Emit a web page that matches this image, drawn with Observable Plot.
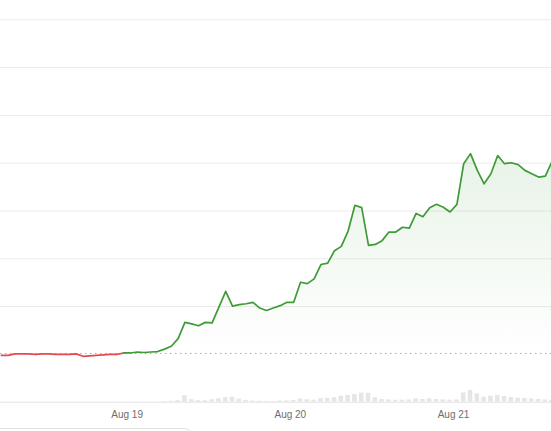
<!DOCTYPE html>
<html><head><meta charset="utf-8">
<script src="https://cdn.jsdelivr.net/npm/d3@7"></script>
<script src="https://cdn.jsdelivr.net/npm/@observablehq/plot@0.6"></script>
<style>
html,body{margin:0;padding:0;background:#fff;overflow:hidden;width:551px;height:431px;}
#chart{position:absolute;left:0;top:0;}
.btn{position:absolute;left:-12px;top:428px;width:205px;height:30px;border:1px solid #e2e2e2;border-radius:9px;box-sizing:border-box;}
</style></head><body>
<div id="chart"></div><div class="btn"></div>
<script>
// hourly prices (first point Aug 18 05:30 UTC)
const prices = [
  11.98, 11.98, 12.01, 12.01, 12.01, 12.00, 12.01, 12.01, 12.00, 12.00,
  12.00, 12.01, 11.96, 11.97, 11.98, 11.99, 12.00, 12.00, 12.03, 12.03,
  12.05, 12.04, 12.05, 12.06, 12.11, 12.17, 12.33, 12.67, 12.64, 12.60,
  12.67, 12.66, 12.99, 13.32, 13.01, 13.04, 13.06, 13.09, 12.97, 12.92,
  12.97, 13.02, 13.09, 13.09, 13.51, 13.48, 13.58, 13.88, 13.91, 14.17,
  14.26, 14.58, 15.12, 15.07, 14.28, 14.30, 14.38, 14.56, 14.56, 14.66,
  14.64, 14.95, 14.88, 15.07, 15.14, 15.08, 14.98, 15.14, 15.99, 16.20,
  15.85, 15.57, 15.78, 16.16, 15.99, 16.01, 15.97, 15.85, 15.78, 15.71,
  15.73, 16.04
];
const volumes = [
  0, 0, 0, 0, 0, 0, 0, 0, 0, 0,
  0, 0, 0, 0, 0, 0, 0, 0, 0, 0,
  0, 0, 0, 0, 5000, 10000, 15000, 65000, 25000, 15000,
  15000, 25000, 35000, 45000, 50000, 30000, 18000, 12000, 10000, 8000,
  8000, 12000, 13000, 18000, 33000, 25000, 20000, 35000, 40000, 45000,
  60000, 67000, 77000, 90000, 90000, 45000, 27000, 23000, 20000, 20000,
  23000, 33000, 27000, 35000, 27000, 23000, 20000, 23000, 93000, 117000,
  83000, 50000, 60000, 67000, 57000, 47000, 40000, 37000, 33000, 27000,
  23000, 20000
];
const tickLabels = ["Aug 19", "Aug 20", "Aug 21"];
const tickDates = [new Date(Date.UTC(2024,7,19)), new Date(Date.UTC(2024,7,20)), new Date(Date.UTC(2024,7,21))];
const prevClose = 12.02;
const gridLevels = [13, 14, 15, 16, 17, 18, 19];
const yBase = 11;

const H = 3600e3;
const t0 = Date.UTC(2024,7,18,5,30);
const data = prices.map((p, i) => ({t: new Date(t0 + i * H), price: p, vol: volumes[i]}));
const k = data.findIndex(d => d.price >= prevClose);
const redPart = data.slice(0, k + 1);
const greenPart = data.slice(k);
const volPerUnit = 478000;
const labelOf = new Map(tickDates.map((d, i) => [+d, tickLabels[i]]));
const day0 = +tickDates[0];

const green = "#3e9b37", red = "#e5484d";

const plot = Plot.plot({
  width: 551, height: 431,
  marginTop: 0, marginLeft: 0, marginRight: 0, marginBottom: 29.3,
  style: {fontFamily: "'Liberation Sans', Arial, sans-serif", fontSize: "10px", background: "#fff"},
  x: {type: "utc", domain: [new Date(day0 - 18.62 * H), new Date(day0 + 62.41 * H)]},
  y: {domain: [11, 19.404], axis: null},
  marks: [
    Plot.ruleY(gridLevels, {stroke: "#ebebeb", strokeWidth: 1}),
    Plot.ruleY([yBase], {stroke: "#e2e2e2", strokeWidth: 1}),
    Plot.rectY(data.filter(d => d.vol > 0), {
      x1: d => new Date(+d.t - 20 * 60e3), x2: d => new Date(+d.t + 20 * 60e3),
      y1: yBase, y2: d => yBase + d.vol / volPerUnit, fill: "#e6e6e6"
    }),
    Plot.areaY(greenPart, {x: "t", y1: prevClose, y2: "price", fill: "url(#gfill)"}),
    Plot.ruleY([prevClose], {stroke: "#aaaaaa", strokeDasharray: "1.5,3.5", strokeWidth: 1}),
    Plot.line(redPart, {x: "t", y: "price", stroke: red, strokeWidth: 1.7}),
    Plot.line(greenPart, {x: "t", y: "price", stroke: green, strokeWidth: 1.7}),
    Plot.axisX({ticks: tickDates, tickFormat: d => labelOf.get(+d), tickSize: 0, tickPadding: 9, color: "#6e6e6e", label: null})
  ]
});
const defs = document.createElementNS("http://www.w3.org/2000/svg", "defs");
defs.innerHTML = `<linearGradient id="gfill" x1="0" y1="0" x2="0" y2="1"><stop offset="0" stop-color="${green}" stop-opacity="0.12"/><stop offset="1" stop-color="${green}" stop-opacity="0"/></linearGradient>`;
plot.prepend(defs);
document.getElementById("chart").appendChild(plot);
</script>
</body></html>
